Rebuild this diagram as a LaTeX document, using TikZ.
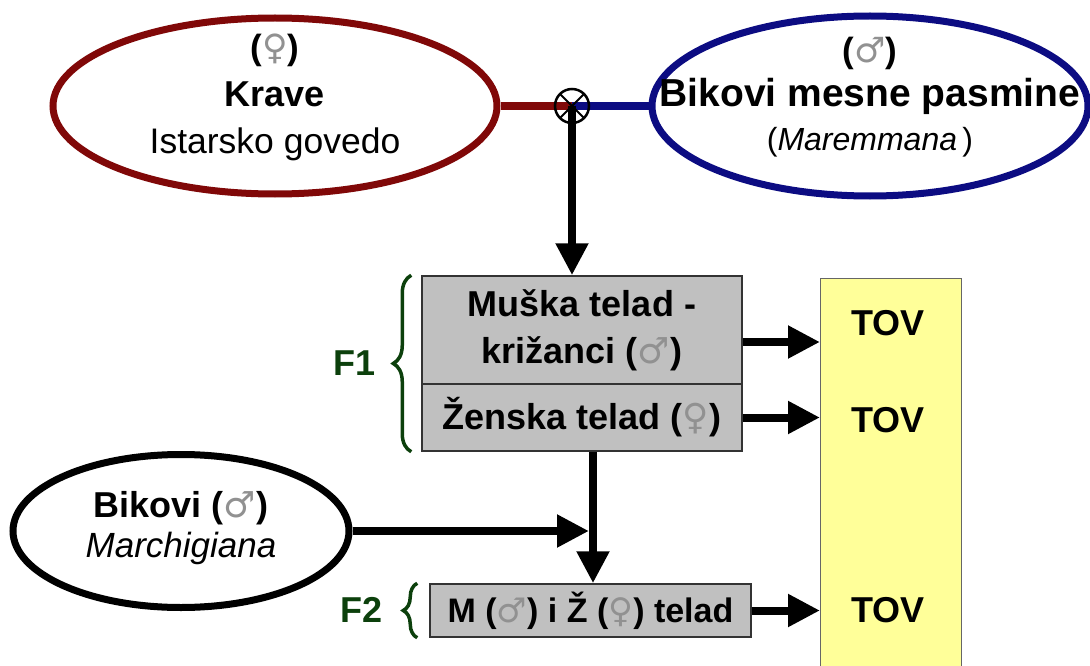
\documentclass[tikz,border=0pt]{standalone}
\usepackage{fontspec}
\setmainfont{Liberation Sans}
\newfontfamily\znakfont{DejaVu Sans}
\usepackage{xcolor}
\usetikzlibrary{arrows.meta, shapes.geometric, decorations.pathreplacing}

\definecolor{kravered}{RGB}{128,8,8}
\definecolor{bikblue}{RGB}{12,12,130}
\definecolor{fgreen}{RGB}{12,64,12}
\definecolor{teladgray}{RGB}{192,192,192}
\definecolor{tovyellow}{RGB}{255,255,153}
\definecolor{znakgray}{RGB}{145,145,145}

\newcommand{\mznak}{{\normalfont\znakfont\color{znakgray}♂}}
\newcommand{\zznak}{{\normalfont\znakfont\color{znakgray}♀}}

\begin{document}
\begin{tikzpicture}[x=1pt, y=-1pt,
    ell/.style={ellipse, line width=7pt},
    arr/.style={line width=8pt, -{Triangle[length=32pt, width=31pt]}},
    telad/.style={rectangle, draw=black!80, line width=1.5pt, fill=teladgray, minimum width=320pt, align=center, font=\fontsize{36}{47}\selectfont\bfseries},
    fbrace/.style={draw=fgreen, line width=3.5pt, decorate, decoration={brace, amplitude=#1}},
    fbrace/.default=15pt,
    flabel/.style={text=fgreen, font=\fontsize{36}{40}\selectfont\bfseries},
    tovtext/.style={font=\fontsize{36}{40}\selectfont\bfseries}]
    \useasboundingbox (0,0) rectangle (1090,666);

    \node[ell, draw=kravered, minimum width=444pt, minimum height=176pt] (krave) at (275,106) {};
    \node[ell, draw=bikblue, minimum width=436pt, minimum height=180pt] (bik) at (870,106) {};
    \node[align=center, font=\fontsize{35}{47}\selectfont] (kravetext) at ([yshift=8.5pt]krave.center) {\textbf{(\zznak)}\\{\fontsize{36}{47}\selectfont\bfseries Krave}\\{\fontsize{35.5}{47}\selectfont Istarsko govedo}};
    \node[align=center, font=\fontsize{35}{44}\selectfont] (biktext) at ([yshift=9pt]bik.center) {\textbf{(\mznak)}\\{\fontsize{39}{44}\selectfont\bfseries Bikovi mesne pasmine}\\{\fontsize{32}{44}\selectfont(\textit{Maremmana}\,)}};

    \node[draw=black!60, line width=1.2pt, fill=tovyellow, minimum width=141pt, minimum height=400pt, anchor=north west] (tov) at (820,278) {};
    \node[tovtext] (tov1) at (888,323) {TOV};
    \node[tovtext] (tov2) at (888,420) {TOV};
    \node[tovtext] (tov3) at (888,610) {TOV};

    \node[telad, minimum height=108pt] (muski) at (582,330) {Muška telad -\\križanci (\mznak)};
    \node[telad, minimum height=67pt] (zenski) at (582,417.5) {Ženska telad (\zznak)};
    \node[telad, minimum width=321pt, minimum height=53pt, font=\fontsize{34}{40}\selectfont\bfseries] (f2box) at (590.5,610.5) {M (\mznak) i Ž (\zznak) telad};

    \node[ell, draw=black, minimum width=336pt, minimum height=153pt] (bikovi) at (181,531) {};
    \node[align=center, font=\fontsize{35}{40}\selectfont] (bikovitext) at ([yshift=3pt]bikovi.center) {{\fontsize{36}{40}\selectfont\bfseries Bikovi (\mznak)}\\\textit{Marchigiana}};

    \coordinate (kriz) at (572,106);
    \coordinate (spoj) at (593,531);
    \coordinate (m1) at ([yshift=-12pt]muski.east);
    \draw[kravered, line width=8pt] (krave.east) -- (kriz);
    \draw[bikblue, line width=8pt] (kriz) -- (bik.west);
    \draw[arr] (kriz) -- (kriz |- muski.north);
    \node[circle, draw, line width=2.5pt, minimum size=34pt, path picture={\draw[line width=2pt] (path picture bounding box.north west) -- (path picture bounding box.south east) (path picture bounding box.north east) -- (path picture bounding box.south west);}] (krug) at (kriz) {};

    \draw[arr] (m1) -- (m1 -| tov.west);
    \draw[arr] (zenski.east) -- (zenski.east -| tov.west);
    \draw[arr] (f2box.east) -- (f2box.east -| tov.west);
    \draw[arr] (zenski.south -| spoj) -- (f2box.north -| spoj);
    \draw[arr] (bikovi.east) -- ([xshift=-4pt]spoj);

    \draw[fbrace=18pt] ([xshift=-10pt]zenski.south west) -- ([xshift=-10pt]muski.north west);
    \draw[fbrace=14pt] ([xshift=-12pt]f2box.south west) -- ([xshift=-12pt]f2box.north west);
    \node[flabel] (f1) at (355,363) {F1};
    \node[flabel] (f2) at (362,610) {F2};
\end{tikzpicture}
\end{document}
